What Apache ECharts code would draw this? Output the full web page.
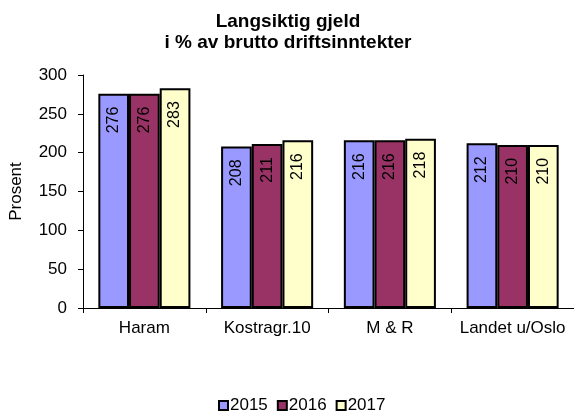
<!DOCTYPE html>
<html><head><meta charset="utf-8">
<script src="https://cdn.jsdelivr.net/npm/echarts@6/dist/echarts.min.js"></script>
<style>html,body{margin:0;padding:0;background:#fff}#c{width:574px;height:412px}</style>
</head><body><div id="c"></div>
<script>
const categories = ['Haram', 'Kostragr.10', 'M & R', 'Landet u/Oslo'];
const seriesNames = ['2015', '2016', '2017'];
const values2015 = [276, 208, 216, 212];
const values2016 = [276, 211, 216, 210];
const values2017 = [283, 216, 218, 210];
const yTicks = [0, 50, 100, 150, 200, 250, 300];
const colors = ['#9999FF', '#993366', '#FFFFCC'];
const font = 'Liberation Sans, Arial, sans-serif';
const chart = echarts.init(document.getElementById('c'));
const data = [values2015, values2016, values2017];
chart.setOption({
  animation: false,
  title: {
    text: 'Langsiktig gjeld\ni % av brutto driftsinntekter',
    left: 288, top: 11, textAlign: 'center', padding: 0,
    textStyle: { fontFamily: font, fontSize: 19, fontWeight: 'bold', color: '#000', lineHeight: 21 }
  },
  legend: {
    top: 396, left: 218, itemWidth: 9, itemHeight: 9, itemGap: 9, padding: 0,
    icon: 'rect',
    textStyle: { fontFamily: font, fontSize: 17, color: '#000', lineHeight: 19, padding: [0, 0, 0, -3] },
    data: seriesNames.map((n) => ({ name: n, itemStyle: { borderColor: '#000', borderWidth: 2 } }))
  },
  grid: { left: 80, right: 0, top: 75, bottom: 104 },
  xAxis: {
    type: 'category', data: categories,
    axisLine: { lineStyle: { color: '#000' } },
    axisTick: { show: true, interval: 0, alignWithLabel: false, length: 5, lineStyle: { color: '#000' } },
    axisLabel: { interval: 0, hideOverlap: false, fontFamily: font, fontSize: 17, color: '#000', margin: 12 }
  },
  yAxis: {
    type: 'value', min: yTicks[0], max: yTicks[yTicks.length - 1], interval: 50,
    name: 'Prosent', nameLocation: 'middle', nameGap: 58,
    nameTextStyle: { fontFamily: font, fontSize: 17, color: '#000' },
    axisLine: { show: true, lineStyle: { color: '#000' } },
    axisTick: { show: true, length: 5, lineStyle: { color: '#000' } },
    splitLine: { show: false },
    axisLabel: { fontFamily: font, fontSize: 17, color: '#000', margin: 16 }
  },
  series: seriesNames.map((n, i) => ({
    name: n, type: 'bar', data: data[i],
    barGap: '0%', barCategoryGap: '25%',
    itemStyle: { color: colors[i], borderColor: '#000', borderWidth: 2 },
    label: {
      show: true, position: 'insideTop', rotate: 90, align: 'right', verticalAlign: 'middle',
      distance: 13, fontFamily: font, fontSize: 16, color: '#000'
    }
  }))
});
</script></body></html>
